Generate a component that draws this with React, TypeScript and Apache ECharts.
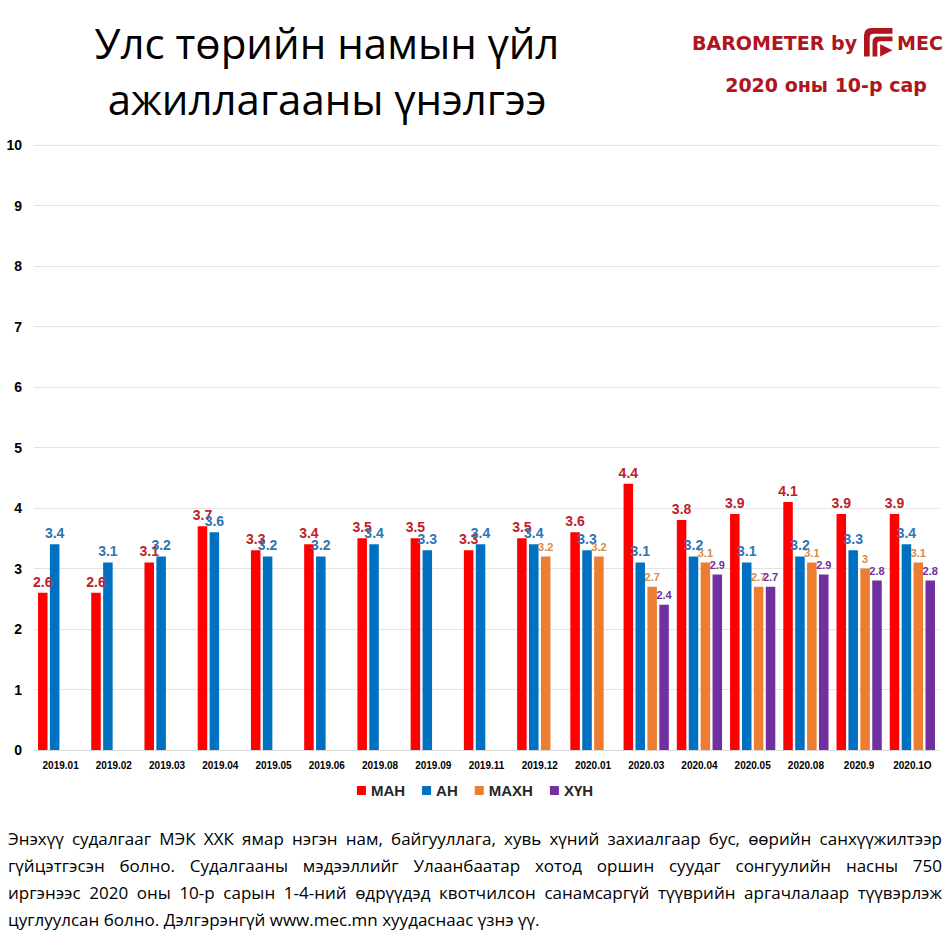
import React, { useEffect, useRef } from "react";
import * as echarts from "echarts";

const categories = [
  "2019.01", "2019.02", "2019.03", "2019.04", "2019.05", "2019.06", "2019.08", "2019.09",
  "2019.11", "2019.12", "2020.01", "2020.03", "2020.04", "2020.05", "2020.08", "2020.9", "2020.1O",
];
const manValues = [2.6, 2.6, 3.1, 3.7, 3.3, 3.4, 3.5, 3.5, 3.3, 3.5, 3.6, 4.4, 3.8, 3.9, 4.1, 3.9, 3.9];
const anValues = [3.4, 3.1, 3.2, 3.6, 3.2, 3.2, 3.4, 3.3, 3.4, 3.4, 3.3, 3.1, 3.2, 3.1, 3.2, 3.3, 3.4];
const maxnValues = [null, null, null, null, null, null, null, null, null, 3.2, 3.2, 2.7, 3.1, 2.7, 3.1, 3.0, 3.1];
const xynValues = [null, null, null, null, null, null, null, null, null, null, null, 2.4, 2.9, 2.7, 2.9, 2.8, 2.8];
const seriesNames = ["МАН", "АН", "МАХН", "ХҮН"];
const yTicks = { min: 0, max: 10, interval: 1 };

const titleLines = ["Улс төрийн намын үйл", "ажиллагааны үнэлгээ"];
const brandText = "BAROMETER by";
const brandText2 = "MEC";
const periodText = "2020 оны 10-р сар";
const footLines = [
  "Энэхүү судалгааг МЭК ХХК ямар нэгэн нам, байгууллага, хувь хүний захиалгаар бус, өөрийн санхүүжилтээр",
  "гүйцэтгэсэн болно. Судалгааны мэдээллийг Улаанбаатар хотод оршин суудаг сонгуулийн насны 750",
  "иргэнээс 2020 оны 10-р сарын 1-4-ний өдрүүдэд квотчилсон санамсаргүй түүврийн аргачлалаар түүвэрлэж",
  "цуглуулсан болно. Дэлгэрэнгүй www.mec.mn хуудаснаас үзнэ үү.",
];

const LOGO_D =
  "M0 30 L0 8 Q0 0 8 0 L30 0 L30 6 L10 6 Q6 6 6 10 L6 30 Z " +
  "M9 30 L9 15 Q9 9 15 9 L30 9 L30 14 L17 14 Q14 14 14 17 L14 30 Z " +
  "M17 17 L30 23.5 L17 30 Z";

let logoRegistered = false;

export default function App() {
  const ref = useRef<HTMLDivElement>(null);

  useEffect(() => {
    document.body.style.margin = "0";
    if (!logoRegistered) {
      echarts.graphic.registerShape("logo", echarts.graphic.extendPath(LOGO_D, {}));
      logoRegistered = true;
    }
    const chart = echarts.init(ref.current!, null, { renderer: "svg" });

    const footFamily = "'Liberation Sans Narrow', 'Open Sans', sans-serif";
    const canvas = document.createElement("canvas");
    const ctx = canvas.getContext("2d")!;
    const left = 8, right = 942;
    // pick a font size so the last (unjustified) line is ~530px and justified lines fit
    let footSize = 19;
    ctx.font = `${footSize}px ${footFamily}`;
    const w4 = ctx.measureText(footLines[3]).width;
    footSize = Math.min(20, (footSize * 532) / w4);
    ctx.font = `${footSize}px ${footFamily}`;
    footLines.slice(0, 3).forEach((l) => {
      const w = ctx.measureText(l).width;
      if (w > right - left - 20) {
        footSize = (footSize * (right - left - 20)) / w;
        ctx.font = `${footSize}px ${footFamily}`;
      }
    });
    const footEls: any[] = [];
    const lineY = [838, 865, 892, 919];
    footLines.forEach((line, i) => {
      const words = line.split(" ");
      const widths = words.map((w) => ctx.measureText(w).width);
      const total = widths.reduce((a, b) => a + b, 0);
      const justify = i < footLines.length - 1;
      const gap = justify ? (right - left - total) / (words.length - 1) : ctx.measureText(" ").width;
      let x = left;
      words.forEach((w, j) => {
        footEls.push({
          type: "text",
          x,
          y: lineY[i],
          style: { text: w, fill: "#000", fontSize: footSize, fontFamily: footFamily, textVerticalAlign: "middle" },
        });
        x += widths[j] + gap;
      });
    });

    const brandColor = "#b0141d";
    const labelBase = { show: true, position: "top", fontWeight: "bold", fontFamily: "'Liberation Sans', Arial, sans-serif", distance: 4 };

    chart.setOption({
      animation: false,
      grid: { left: 34, right: 11, top: 145, bottom: 200 },
      legend: {
        data: seriesNames,
        bottom: 147,
        left: "center",
        icon: "rect",
        itemWidth: 9,
        itemHeight: 9,
        itemGap: 17,
        textStyle: { fontSize: 15, fontWeight: "bold", color: "#262626", fontFamily: "'Liberation Sans', Arial, sans-serif" },
      },
      xAxis: {
        type: "category",
        data: categories,
        axisTick: { show: false },
        axisLine: { lineStyle: { color: "#d9d9d9" } },
        axisLabel: { fontSize: 10, fontWeight: "bold", color: "#000", margin: 10, fontFamily: "'Liberation Sans', Arial, sans-serif" },
      },
      yAxis: {
        type: "value",
        ...yTicks,
        axisLabel: { fontSize: 14, fontWeight: "bold", color: "#000", margin: 12, fontFamily: "'Liberation Sans', Arial, sans-serif" },
        splitLine: { lineStyle: { color: "#e3e3e3" } },
        axisLine: { show: false },
      },
      series: [
        { name: seriesNames[0], type: "bar", data: manValues, barGap: "25%", barCategoryGap: "15%", itemStyle: { color: "#ff0000" }, label: { ...labelBase, fontSize: 14, color: "#c0202a" } },
        { name: seriesNames[1], type: "bar", data: anValues, itemStyle: { color: "#0070c0" }, label: { ...labelBase, fontSize: 14, color: "#2e75b6" } },
        { name: seriesNames[2], type: "bar", data: maxnValues, itemStyle: { color: "#ed7d31" }, label: { ...labelBase, fontSize: 11, color: "#d98a45" } },
        { name: seriesNames[3], type: "bar", data: xynValues, itemStyle: { color: "#7030a0" }, label: { ...labelBase, fontSize: 11, color: "#7030a0" } },
      ],
      graphic: [
        {
          type: "text",
          x: 327,
          y: 42,
          style: { text: titleLines[0], fontSize: 42, fontFamily: "'Open Sans', sans-serif", fill: "#000", textAlign: "center", textVerticalAlign: "middle" },
        },
        {
          type: "text",
          x: 327,
          y: 98,
          style: { text: titleLines[1], fontSize: 42, fontFamily: "'Open Sans', sans-serif", fill: "#000", textAlign: "center", textVerticalAlign: "middle" },
        },
        {
          type: "text",
          x: 692,
          y: 43,
          style: { text: brandText, fontSize: 19, fontWeight: "bold", fontFamily: "'DejaVu Sans', sans-serif", fill: brandColor, textVerticalAlign: "middle" },
        },
        {
          type: "logo",
          x: 864,
          y: 28,
          scaleX: 0.95,
          scaleY: 0.95,
          style: { fill: brandColor },
        },
        {
          type: "text",
          x: 897,
          y: 43,
          style: { text: brandText2, fontSize: 19, fontWeight: "bold", fontFamily: "'DejaVu Sans', sans-serif", fill: brandColor, textVerticalAlign: "middle" },
        },
        {
          type: "text",
          x: 826,
          y: 85,
          style: { text: periodText, fontSize: 19, fontWeight: "bold", fontFamily: "'DejaVu Sans', sans-serif", fill: brandColor, textAlign: "center", textVerticalAlign: "middle" },
        },
        ...footEls,
      ],
    });

    return () => chart.dispose();
  }, []);

  return <div ref={ref} style={{ width: 950, height: 950 }} />;
}
